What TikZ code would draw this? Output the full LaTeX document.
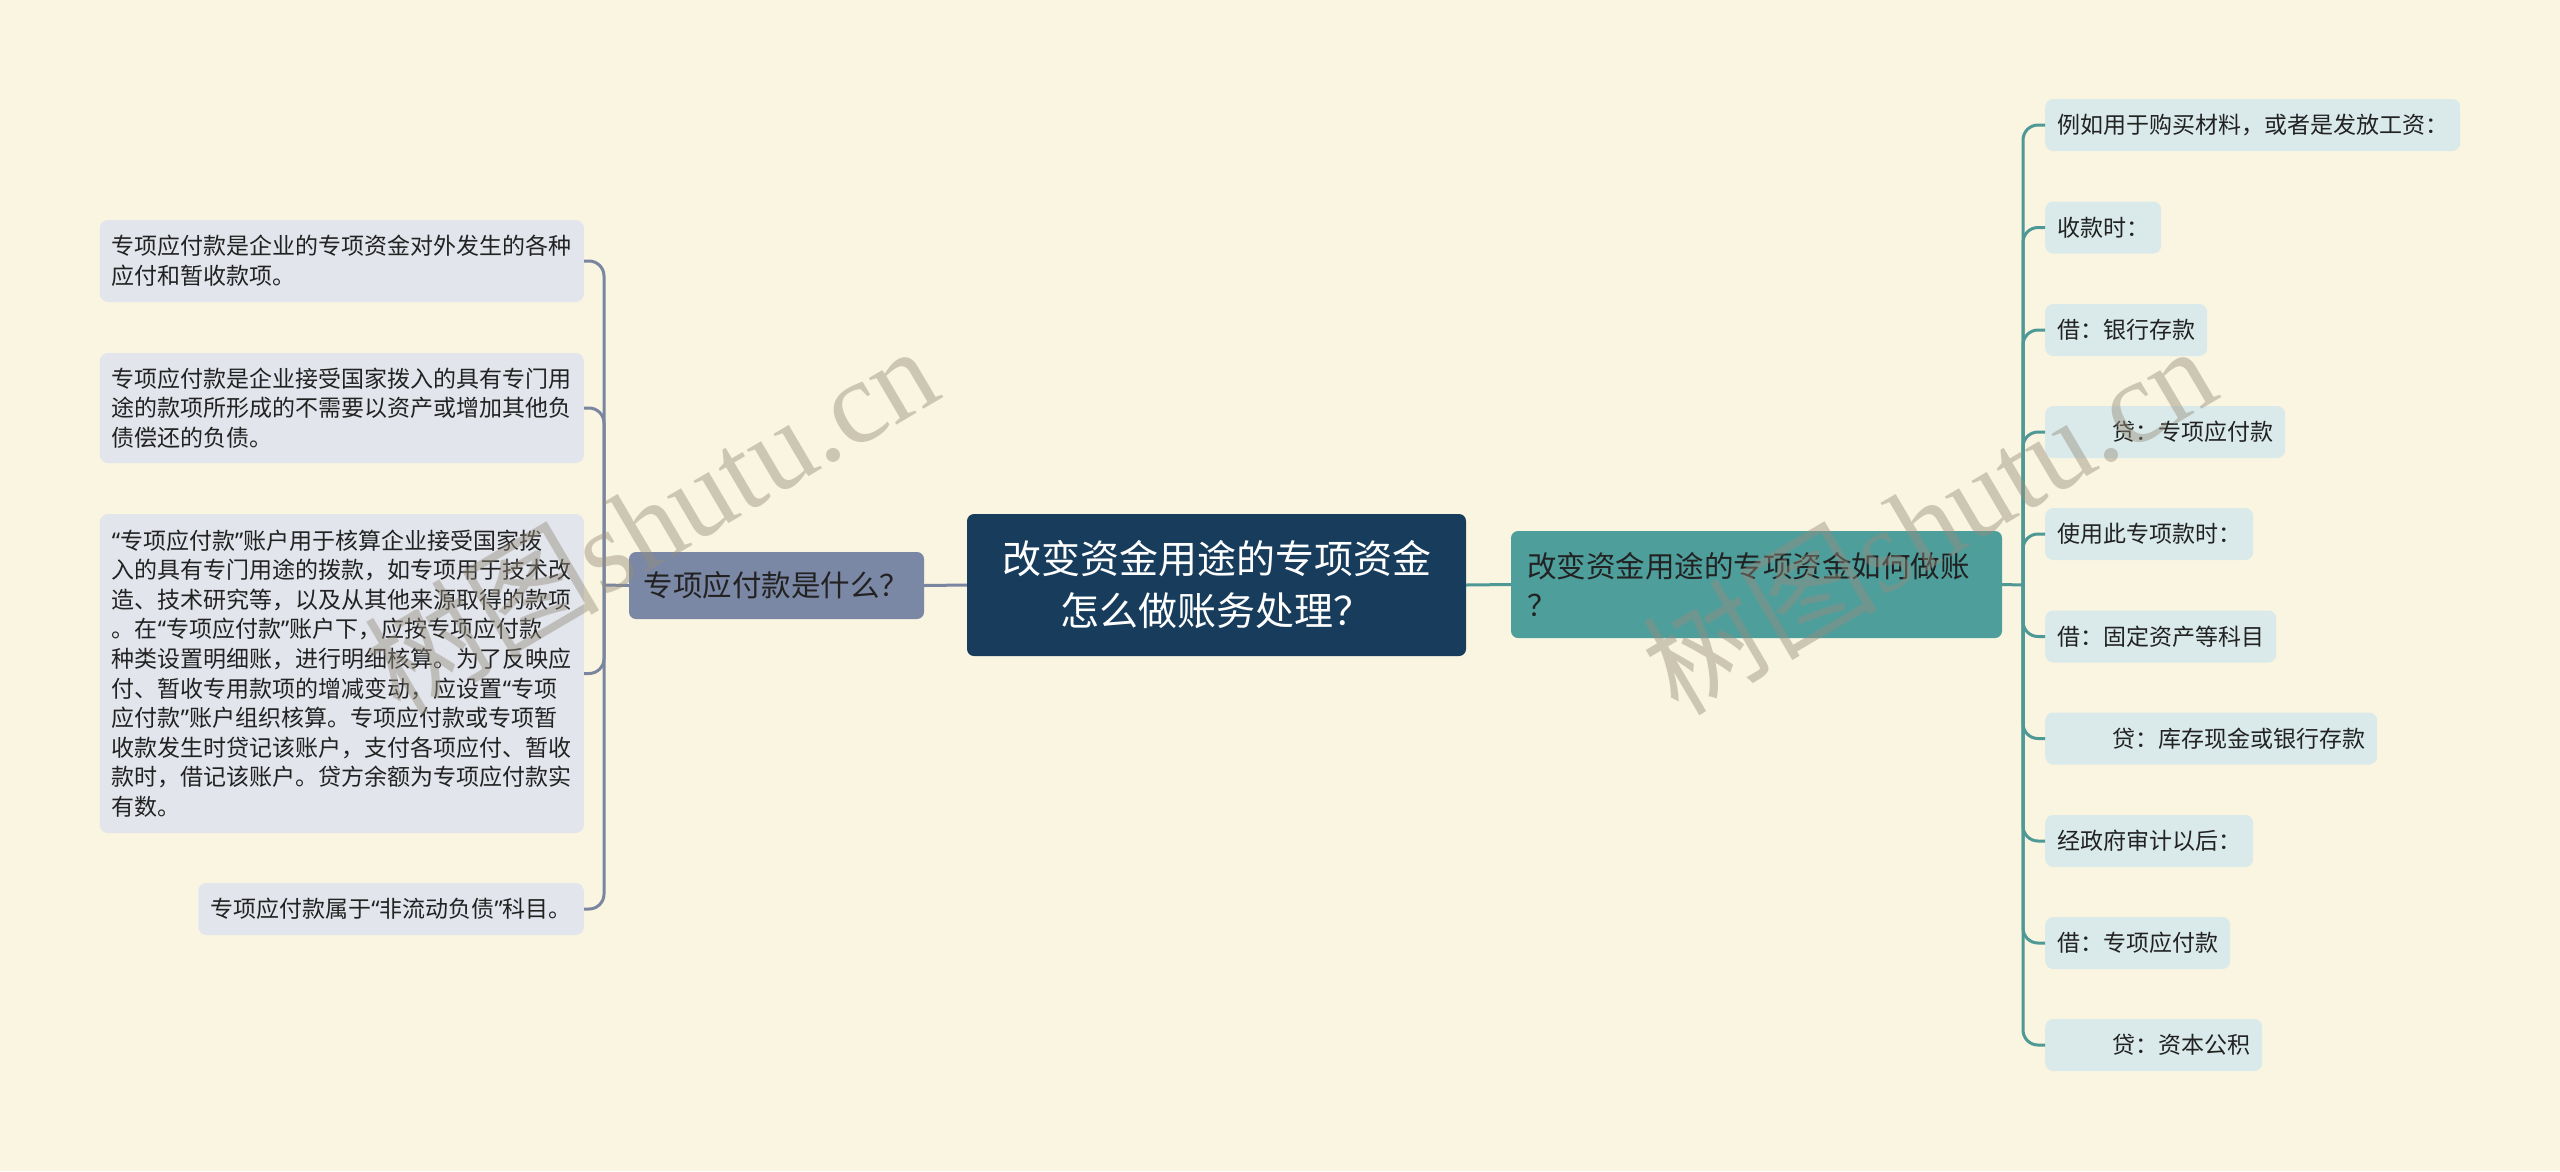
\documentclass[tikz,border=0pt]{standalone}
\usepackage{fontspec}
\setmainfont{Liberation Serif}
\newfontfamily\cjk{Noto Sans CJK SC}
\newfontfamily\quotefont{Noto Sans}
\newcommand\zqL{{\quotefont “}}
\newcommand\zqR{{\quotefont ”}}

\definecolor{paper}{RGB}{250,245,225}
\definecolor{navy}{RGB}{24,61,92}
\definecolor{slatemain}{RGB}{122,135,165}
\definecolor{slateleaf}{RGB}{226,229,236}
\definecolor{slateline}{RGB}{122,133,160}
\definecolor{tealmain}{RGB}{78,158,156}
\definecolor{tealleaf}{RGB}{218,234,234}
\definecolor{tealline}{RGB}{78,152,150}
\definecolor{ink}{RGB}{34,34,34}
\definecolor{wmgray}{RGB}{150,142,125}

\tikzset{
  rootbox/.style={fill=navy, rounded corners=7pt, text=white, align=center,
    minimum width=499pt, minimum height=142pt, inner sep=0pt,
    font=\cjk\fontsize{39pt}{52pt}\selectfont},
  lqbox/.style={fill=slatemain, rounded corners=7pt, text=ink,
    minimum width=295pt, minimum height=67pt, inner sep=0pt,
    font=\cjk\fontsize{29.5pt}{39pt}\selectfont},
  rqbox/.style={fill=tealmain, rounded corners=7pt, text=ink, align=left,
    text width=459pt, inner xsep=16pt, inner ysep=0pt, minimum height=107pt,
    font=\cjk\fontsize{29.5pt}{39pt}\selectfont},
  lleaf/.style={fill=slateleaf, rounded corners=8pt, text=ink, align=left,
    inner xsep=12pt, inner ysep=0pt, anchor=east,
    font=\cjk\fontsize{23pt}{29.6pt}\selectfont},
  rleaf/.style={fill=tealleaf, rounded corners=8pt, text=ink,
    inner xsep=12pt, inner ysep=0pt, minimum height=52pt, anchor=west,
    font=\cjk\fontsize{23pt}{29.6pt}\selectfont},
  lline/.style={draw=slateline, line width=3pt, rounded corners=15pt},
  rline/.style={draw=tealline, line width=3pt, rounded corners=15pt},
  wmark/.style={text=wmgray, text opacity=0.45, rotate=30.5,
    font=\fontsize{118pt}{118pt}\selectfont}
}

\begin{document}
\begin{tikzpicture}[x=1pt,y=-1pt]
\fill[paper] (0,0) rectangle (2560,1171);
\useasboundingbox (0,0) rectangle (2560,1171);

% centre and the two branches
\draw (1216.5,585) node[rootbox] (Root) {改变资金用途的专项资金\\怎么做账务处理？};
\draw (776.5,585.5) node[lqbox] (LQ) {专项应付款是什么？};
\draw (1756.5,584.5) node[rqbox] (RQ) {改变资金用途的专项资金如何做账\\？};

% left leaves
\draw (584,261) node[lleaf,minimum height=82pt] (A1) {专项应付款是企业的专项资金对外发生的各种\\应付和暂收款项。};
\draw (584,408) node[lleaf,minimum height=110pt] (A2) {专项应付款是企业接受国家拨入的具有专门用\\途的款项所形成的不需要以资产或增加其他负\\债偿还的负债。};
\draw (584,673.5) node[lleaf,minimum height=319pt] (A3) {\zqL 专项应付款\zqR 账户用于核算企业接受国家拨\\入的具有专门用途的拨款，如专项用于技术改\\造、技术研究等，以及从其他来源取得的款项\\。在\zqL 专项应付款\zqR 账户下，应按专项应付款\\种类设置明细账，进行明细核算。为了反映应\\付、暂收专用款项的增减变动，应设置\zqL 专项\\应付款\zqR 账户组织核算。专项应付款或专项暂\\收款发生时贷记该账户，支付各项应付、暂收\\款时，借记该账户。贷方余额为专项应付款实\\有数。};
\draw (584,909) node[lleaf,minimum height=52pt] (A4) {专项应付款属于\zqL 非流动负债\zqR 科目。};

% right leaves
\draw (2045,125) node[rleaf] (B1) {例如用于购买材料，或者是发放工资：};
\draw (2045,227.5) node[rleaf] (B2) {收款时：};
\draw (2045,330) node[rleaf] (B3) {借：银行存款};
\draw (2045,432) node[rleaf] (B4) {\hspace*{55pt}贷：专项应付款};
\draw (2045,534) node[rleaf] (B5) {使用此专项款时：};
\draw (2045,636.5) node[rleaf] (B6) {借：固定资产等科目};
\draw (2045,738.5) node[rleaf] (B7) {\hspace*{55pt}贷：库存现金或银行存款};
\draw (2045,841) node[rleaf] (B8) {经政府审计以后：};
\draw (2045,943) node[rleaf] (B9) {借：专项应付款};
\draw (2045,1045) node[rleaf] (B10) {\hspace*{55pt}贷：资本公积};

% connectors
\coordinate (LJ) at (604,585);
\coordinate (RJ) at (2023,585);
\draw[lline] (Root.west) -- (LQ.east);
\draw[lline] (LQ.west) -- (LJ);
\draw[lline] (LJ) |- (A1.east);
\draw[lline] (LJ) |- (A2.east);
\draw[lline] (LJ) |- (A3.east);
\draw[lline] (LJ) |- (A4.east);
\draw[rline] (Root.east) -- (RQ.west);
\draw[rline] (RQ.east) -- (RJ);
\draw[rline] (RJ) |- (B1.west);
\draw[rline] (RJ) |- (B2.west);
\draw[rline] (RJ) |- (B3.west);
\draw[rline] (RJ) |- (B4.west);
\draw[rline] (RJ) |- (B5.west);
\draw[rline] (RJ) |- (B6.west);
\draw[rline] (RJ) |- (B7.west);
\draw[rline] (RJ) |- (B8.west);
\draw[rline] (RJ) |- (B9.west);
\draw[rline] (RJ) |- (B10.west);

% watermark
\draw (650,518) node[wmark] (WM1) {{\cjk 树图}shutu.cn};
\draw (1928,518) node[wmark] (WM2) {{\cjk 树图}shutu.cn};

\end{tikzpicture}
\end{document}
